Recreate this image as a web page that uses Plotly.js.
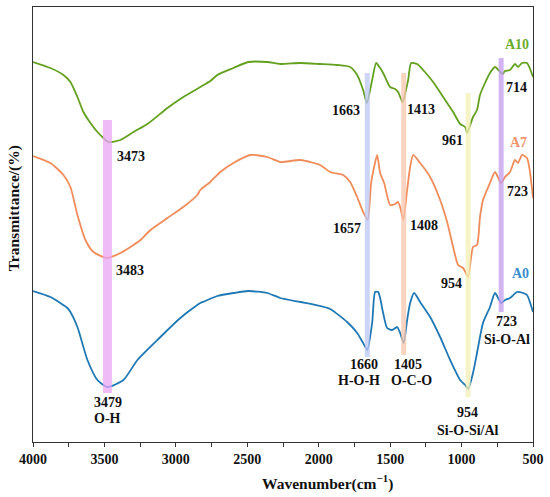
<!DOCTYPE html>
<html>
<head>
<meta charset="utf-8">
<script src="https://cdn.plot.ly/plotly-3.0.1.min.js"></script>
<style>html,body{margin:0;padding:0;background:#fff;}#chart{width:550px;height:497px;}</style>
</head>
<body>
<div id="chart"></div>
<script>
// Wavenumber (cm-1) and relative transmittance (offset, arbitrary units)
const wnA10 = [4000,3878,3787,3738,3689,3647,3598,3549,3507,3473,3388,3297,3199,3059,2948,2829,2759,2710,2597,2493,2360,2269,2129,1990,1871,1780,1731,1689,1663,1626,1598,1570,1542,1500,1465,1444,1413,1374,1353,1311,1269,1199,1129,1059,1010,975,961,920,892,871,836,801,766,714,696,661,626,605,577,542,500];
const tA10  = [380,374,367,360,345,330,319,310,304,300,302,310,318,334,345,355,361,367,374,380,380,378,379,378,377,375,367,352,339,362,379,374,367,355,353,350,340,362,379,378,372,360,345,330,318,315,309,325,332,347,359,369,375,368,371,372,378,375,379,379,365];

const wnA7 = [4000,3878,3787,3738,3689,3633,3577,3483,3388,3297,3248,3178,3059,2948,2850,2829,2759,2689,2597,2479,2360,2269,2129,1990,1920,1829,1780,1731,1689,1657,1633,1612,1591,1570,1542,1500,1465,1444,1430,1408,1381,1360,1339,1290,1220,1150,1101,1059,1024,989,954,920,892,871,850,801,766,723,696,661,626,605,577,542,500];
const tA7  = [286,279,267,255,227,202,190,184,189,197,202,212,224,235,247,252,260,270,279,287,285,280,282,277,270,267,260,245,230,222,259,275,287,269,259,237,238,240,235,222,252,275,287,279,265,242,220,195,177,174,165,195,197,225,242,259,270,259,265,270,282,279,287,284,244];

const wnA0 = [4000,3878,3759,3738,3689,3619,3549,3479,3367,3269,3108,2969,2829,2794,2710,2597,2493,2360,2269,2129,1990,1920,1801,1731,1689,1660,1626,1605,1584,1570,1549,1521,1486,1451,1430,1405,1381,1360,1332,1290,1220,1150,1080,1010,975,954,920,892,850,801,766,723,696,661,612,570,542,500];
const tA0  = [151,145,134,130,115,82,62,55,62,82,105,124,139,141,146,149,151,149,144,140,136,133,120,109,99,92,119,150,150,144,129,114,112,115,109,99,122,139,149,140,125,105,82,62,57,53,69,89,119,135,149,139,142,144,150,149,147,130];

const seriesNames = ['A10','A7','A0'];
const seriesColors = ['#62a01e','#f08c5a','#1f78b4'];
const labelColors = ['#6aac2a','#f2936a','#3b8fcc'];

// Highlight bands: wavenumber, lower and upper extent
const bandWn = [3479,1660,1405,954,723];
const bandLo = [49,85,87,45,130];
const bandHi = [322,369,369,349,384];
const bandColors = ['#eaa6f6','#bcc6f6','#f7c6ad','#f4efb4','#c39cf0'];
const bandWidths = [9,5,5,5,5];

const peakLabels = ['3473','3483','3479','O-H','1663','1413','961','714','723','1657','1408','954','723','Si-O-Al','1660','H-O-H','1405','O-C-O','954','Si-O-Si/Al'];
const peakLabelWn = [3311,3318,3476,3476,1808,1283,1063,614,612,1803,1262,1073,685,685,1682,1720,1378,1350,958,958];
const peakLabelT  = [286,172,40,24,332,333,302,355,251,214,217,159,121,103,78,62,78,62,30,12];

const xTitle = 'Wavenumber(cm<sup>−1</sup>)';
const yTitle = 'Transmittance/(%)';

const font = 'Liberation Serif, Times New Roman, serif';

const traces = [[wnA10,tA10],[wnA7,tA7],[wnA0,tA0]].map((d,i)=>({
  x:d[0], y:d[1], type:'scatter', mode:'lines', name:seriesNames[i],
  line:{color:seriesColors[i], width:1.8, shape:'spline', smoothing:0.6},
  hoverinfo:'x+name'
}));

const shapes = bandWn.map((w,i)=>({
  type:'line', xref:'x', yref:'y', x0:w, x1:w, y0:bandLo[i], y1:bandHi[i],
  line:{color:bandColors[i], width:bandWidths[i]}, opacity:0.75, layer:'above'
}));

const annotations = peakLabels.map((t,i)=>({
  x:peakLabelWn[i], y:peakLabelT[i], xref:'x', yref:'y', text:t, showarrow:false,
  font:{family:font, size:14, color:'#111', weight:'bold'}
}));
const seriesLabelPos = [[614,398],[601,300],[591,169]];
seriesNames.forEach((n,i)=>annotations.push({
  x:seriesLabelPos[i][0], y:seriesLabelPos[i][1], xref:'x', yref:'y', text:n, showarrow:false,
  font:{family:font, size:14, color:labelColors[i], weight:'bold'}
}));
// axis titles
annotations.push({
  x:0.588, y:-0.094, xref:'paper', yref:'paper', xanchor:'center', yanchor:'middle',
  text:xTitle, showarrow:false,
  font:{family:font, size:15.5, color:'#111', weight:'bold'}
});
annotations.push({
  x:-0.039, y:0.536, xref:'paper', yref:'paper', xanchor:'center', yanchor:'middle',
  text:yTitle, showarrow:false, textangle:-90,
  font:{family:font, size:15.5, color:'#111', weight:'bold'}
});

const layout = {
  width:550, height:497,
  margin:{l:32.5, r:17, t:7, b:55},
  paper_bgcolor:'#fff', plot_bgcolor:'#fff',
  showlegend:false,
  xaxis:{
    range:[4000,500], autorange:false,
    showline:true, mirror:true, linecolor:'#333', linewidth:1,
    showgrid:false, zeroline:false,
    ticks:'outside', ticklen:4, tickcolor:'#333', dtick:500, tick0:500,
    minor:{dtick:250, ticks:'outside', ticklen:4, tickcolor:'#333', showgrid:false},
    tickfont:{family:font, size:14, color:'#111', weight:'bold'}
  },
  yaxis:{
    range:[0,435], autorange:false,
    showline:true, mirror:true, linecolor:'#333', linewidth:1,
    showgrid:false, zeroline:false, showticklabels:false, ticks:''
  },
  shapes:shapes,
  annotations:annotations
};

Plotly.newPlot('chart', traces, layout, {displayModeBar:false, staticPlot:true});
</script>
</body>
</html>
